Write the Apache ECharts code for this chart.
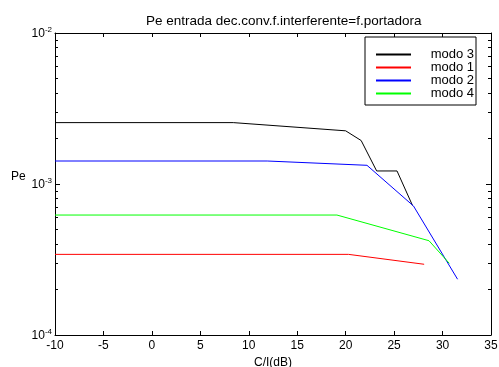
<!DOCTYPE html>
<html>
<head>
<meta charset="utf-8">
<script src="https://cdn.jsdelivr.net/npm/echarts@6/dist/echarts.min.js"></script>
<style>html,body{margin:0;padding:0;background:#fff}#c{width:499px;height:367px}</style>
</head>
<body>
<div id="c"></div>
<script>
// ---- data ----
const titleText = 'Pe entrada dec.conv.f.interferente=f.portadora';
const xName = 'C/I(dB)';
const yName = 'Pe';
const seriesNames = ['modo 3', 'modo 1', 'modo 2', 'modo 4'];
const seriesColors = ['#000000', '#ff0000', '#0000ff', '#00ff00'];
const modo3X = [-10, 8.4, 20, 21.6, 23.2, 25.3, 26.9];
const modo3Y = [2.55e-3, 2.55e-3, 2.25e-3, 1.94e-3, 1.22e-3, 1.22e-3, 7.2e-4];
const modo1X = [-10, 20.3, 28.1];
const modo1Y = [3.42e-4, 3.42e-4, 2.94e-4];
const modo2X = [-10, 11.9, 22.2, 27.0, 31.55];
const modo2Y = [1.42e-3, 1.42e-3, 1.33e-3, 7.15e-4, 2.34e-4];
const modo4X = [-10, 19.1, 28.6, 30.7];
const modo4Y = [6.23e-4, 6.23e-4, 4.21e-4, 2.98e-4];
const xMin = -10, xMax = 35, xStep = 5;
const yMinExp = -4, yMaxExp = -2;
const minorMultipliers = [2, 3, 4, 5, 6, 7, 8, 9];

const xs = [modo3X, modo1X, modo2X, modo4X];
const ys = [modo3Y, modo1Y, modo2Y, modo4Y];

// minor tick positions in log10 space
const minorTicks = [];
for (let e = yMinExp; e < yMaxExp; e++) {
  minorMultipliers.forEach(m => minorTicks.push(Math.log10(m) + e));
}

const font = 'Liberation Sans, Arial, sans-serif';
const chart = echarts.init(document.getElementById('c'), null, {renderer: 'canvas'});

const logLabelFmt = v => '{b|10}{s|' + Math.round(Math.log10(v)) + '}';
const logRich = {
  b: {fontSize: 12, fontFamily: font, color: '#000', lineHeight: 14, verticalAlign: 'bottom'},
  s: {fontSize: 8, fontFamily: font, color: '#000', lineHeight: 14, verticalAlign: 'top', padding: [0, 0, 6, 0]}
};

const gridRect = {left: 55, right: 8, top: 33, bottom: 32, containLabel: false, outerBoundsMode: 'none'};

const minorAxis = (pos) => ({
  type: 'value', min: yMinExp, max: yMaxExp, position: pos,
  axisLine: {show: false, onZero: false},
  axisTick: {show: true, inside: true, length: 3, customValues: minorTicks, lineStyle: {color: '#000', width: 1}},
  axisLabel: {show: false},
  splitLine: {show: false}
});

const option = {
  animation: false,
  backgroundColor: '#fff',
  title: {
    text: titleText,
    left: 141, top: 9,
    textStyle: {fontSize: 13.5, fontWeight: 'normal', fontFamily: font, color: '#000'}
  },
  legend: {
    data: seriesNames,
    orient: 'vertical',
    left: 365, top: 37,
    padding: [11, 2, 5, 10],
    itemGap: 0,
    itemWidth: 35,
    itemHeight: 10,
    itemStyle: {opacity: 0},
    borderColor: '#000', borderWidth: 1, borderRadius: 0,
    backgroundColor: '#fff',
    formatter: n => '{a|' + n + '}',
    textStyle: {
      fontSize: 13, fontFamily: font, color: '#000', lineHeight: 10,
      rich: {a: {fontSize: 13, fontFamily: font, color: '#000', width: 58, align: 'right', lineHeight: 10}}
    }
  },
  grid: gridRect,
  xAxis: [{
    type: 'value', min: xMin, max: xMax, interval: xStep,
    name: xName, nameLocation: 'middle', nameGap: 20,
    nameTextStyle: {fontSize: 12, fontFamily: font, color: '#000'},
    axisLine: {show: true, onZero: false, lineStyle: {color: '#000', width: 1}},
    axisTick: {show: true, inside: true, length: 4, lineStyle: {color: '#000'}},
    axisLabel: {fontSize: 12, fontFamily: font, color: '#000', margin: 5},
    splitLine: {show: false}
  }, {
    type: 'value', min: xMin, max: xMax, interval: xStep, position: 'top',
    axisLine: {show: true, onZero: false, lineStyle: {color: '#000', width: 1}},
    axisTick: {show: true, inside: true, length: 4, lineStyle: {color: '#000'}},
    axisLabel: {show: false},
    splitLine: {show: false}
  }],
  yAxis: [{
    type: 'log', logBase: 10, min: Math.pow(10, yMinExp), max: Math.pow(10, yMaxExp),
    position: 'left',
    name: yName, nameLocation: 'middle', nameRotate: 0, nameGap: 29,
    nameTextStyle: {fontSize: 12, fontFamily: font, color: '#000', verticalAlign: 'bottom', lineHeight: 14},
    axisLine: {show: true, onZero: false, lineStyle: {color: '#000', width: 1}},
    axisTick: {show: true, inside: true, length: 5, lineStyle: {color: '#000'}},
    axisLabel: {formatter: logLabelFmt, rich: logRich, margin: 3},
    splitLine: {show: false}
  }, {
    type: 'log', logBase: 10, min: Math.pow(10, yMinExp), max: Math.pow(10, yMaxExp),
    position: 'right',
    axisLine: {show: true, onZero: false, lineStyle: {color: '#000', width: 1}},
    axisTick: {show: true, inside: true, length: 5, lineStyle: {color: '#000'}},
    axisLabel: {show: false},
    splitLine: {show: false}
  }, minorAxis('left'), minorAxis('right')],
  series: seriesNames.map((n, i) => ({
    name: n,
    type: 'line',
    xAxisIndex: 0,
    yAxisIndex: 0,
    data: xs[i].map((x, j) => [x, ys[i][j]]),
    symbol: 'none',
    showSymbol: false,
    lineStyle: {color: seriesColors[i], width: 1},
    itemStyle: {color: seriesColors[i]},
    emphasis: {disabled: true}
  }))
};
chart.setOption(option);
</script>
</body>
</html>
